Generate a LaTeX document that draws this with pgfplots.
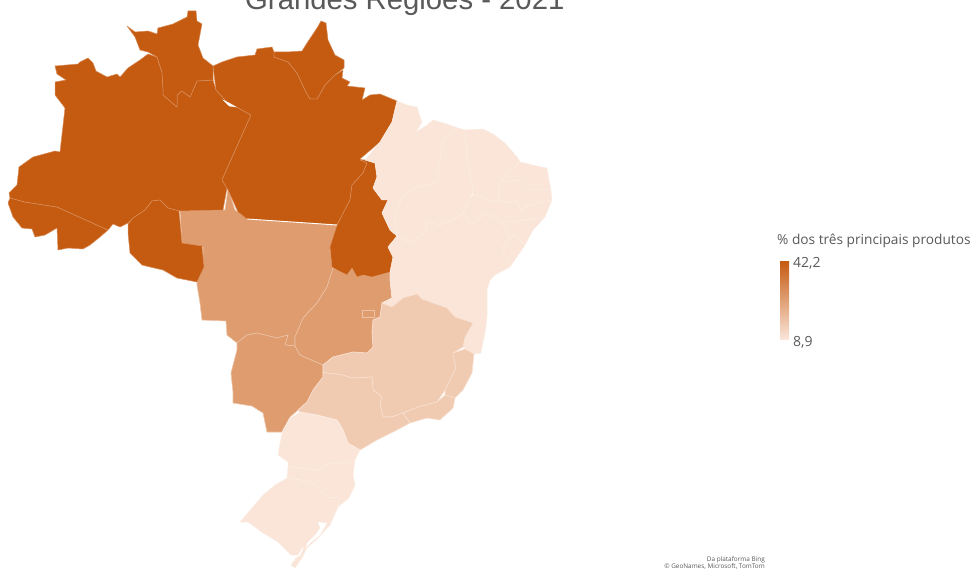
\documentclass[border=0pt]{standalone}
\usepackage{fontspec}
\setmainfont{Liberation Sans}
\newfontfamily\seg{Open Sans}
\usepackage{pgfplots}
\pgfplotsset{compat=1.18}
\definecolor{cN}{HTML}{C55A11}
\definecolor{cCO}{HTML}{DF9C6E}
\definecolor{cSE}{HTML}{F0CBB2}
\definecolor{cL}{HTML}{FAE5D8}
\definecolor{bN}{HTML}{D98F5C}
\definecolor{bCO}{HTML}{EDC3A6}
\definecolor{bSE}{HTML}{F8E0D0}
\definecolor{bL}{HTML}{FCEEE5}
\definecolor{tx}{HTML}{595959}
\pgfplotsset{
 stN/.style={fill=cN,draw=bN,line width=0.5pt,line join=round},
 stCO/.style={fill=cCO,draw=bCO,line width=0.6pt,line join=round},
 stSE/.style={fill=cSE,draw=bSE,line width=0.6pt,line join=round},
 stL/.style={fill=cL,draw=bL,line width=0.5pt,line join=round},
}
\begin{document}
\begin{tikzpicture}
\path[use as bounding box] (0,0) rectangle (973pt,569pt);
\clip (0,0) rectangle (973pt,569pt);
\begin{axis}[x=1pt,y=-1pt,xmin=0,xmax=973,ymin=0,ymax=569,hide axis,clip=false,anchor=north west,at={(0pt,569pt)}]
% Centro-Oeste
\addplot[stCO] coordinates {(180,210)(225,210)(228,189)(235,210)(247,218)(337,225)(330,250)(333,268)(327,287)(317,303)(303,318)(295,337)(295,346)(285,345)(288,335)(277,338)(257,333)(247,335)(237,343)(227,335)(226,321)(202,320)(200,303)(197,285)(197,282)(203,268)(203,247)(182,243)} --cycle;
\addplot[stCO] coordinates {(237,343)(247,335)(257,333)(277,338)(288,335)(285,345)(295,346)(300,355)(323,365)(323,377)(313,390)(307,402)(298,410)(290,417)(282,432)(267,432)(263,413)(252,406)(233,403)(233,392)(231,373)(237,350)} --cycle;
\addplot[stCO] coordinates {(333,268)(337,270)(347,275)(352,268)(357,277)(363,275)(372,277)(390,272)(390,280)(392,298)(382,303)(380,317)(373,320)(372,333)(373,347)(367,353)(353,352)(333,357)(323,365)(300,355)(295,346)(295,337)(303,318)(317,303)(327,287)} --cycle;
\addplot[stCO] coordinates {(362,310)(374,310)(374,317)(362,317)} --cycle;
% Norte
\addplot[stN] coordinates {(10,198)(25,202)(57,207)(108,230)(100,237)(90,245)(83,249)(68,248)(58,250)(57,228)(45,235)(35,237)(32,229)(22,228)(13,217)(8,203)} --cycle;
\addplot[stN] coordinates {(55,66)(78,64)(80,62)(88,58)(93,63)(96,71)(107,77)(117,74)(120,77)(128,68)(140,60)(148,54)(157,57)(162,72)(163,88)(163,95)(177,107)(177,95)(182,91)(190,97)(197,81)(213,80)(216,90)(227,102)(240,109)(251,115)(222,180)(227,188)(223,210)(179,211)(168,208)(160,200)(152,201)(145,210)(133,218)(128,223)(120,227)(113,224)(108,230)(57,207)(25,202)(10,198)(9,193)(17,185)(19,167)(33,157)(55,151)(60,152)(65,108)(55,95)(55,82)(66,80)(57,74)} --cycle;
\addplot[stN] coordinates {(127,26)(135,32)(148,31)(157,34)(158,28)(173,24)(187,17)(188,11)(196,11)(197,21)(202,24)(198,45)(203,58)(213,66)(213,80)(197,81)(190,97)(182,91)(177,95)(177,107)(163,95)(163,88)(162,72)(157,57)(148,52)(140,50)(135,37)} --cycle;
\addplot[stN] coordinates {(213,66)(222,62)(237,57)(255,55)(257,49)(272,47)(274,52)(274,57)(288,62)(297,73)(305,90)(310,99)(317,99)(325,85)(335,75)(343,70)(342,78)(350,82)(347,86)(365,88)(362,100)(370,95)(380,94)(397,101)(392,122)(380,142)(360,159)(367,163)(363,173)(352,185)(350,200)(337,225)(247,219)(238,212)(228,190)(222,180)(251,115)(240,109)(227,102)(216,90)} --cycle;
\addplot[stN] coordinates {(274,52)(287,52)(302,51)(307,43)(317,28)(321,21)(326,23)(328,40)(335,55)(344,60)(344,68)(335,75)(325,85)(317,99)(310,99)(305,90)(297,73)(288,62)(274,57)} --cycle;
\addplot[stN] coordinates {(360,160)(365,160)(375,163)(377,177)(373,188)(382,200)(388,200)(382,213)(390,230)(397,236)(388,247)(393,257)(390,272)(372,277)(363,275)(357,277)(352,268)(347,275)(337,270)(332,267)(330,247)(337,225)(350,200)(352,185)(363,173)(367,163)} --cycle;
\addplot[stN] coordinates {(128,224)(133,218)(145,210)(152,201)(160,200)(168,208)(179,211)(182,243)(202,246)(203,257)(204,267)(197,282)(187,280)(177,278)(163,270)(150,267)(142,265)(130,253)(128,233)} --cycle;
\addplot[fill=white,draw=white,line width=0.3pt] coordinates {(223,100)(229,103)(236,107)(229,106)} --cycle;
\addplot[white,line width=0.9pt] coordinates {(247,219)(337,225)};
% Nordeste
\addplot[stL] coordinates {(397,101)(407,105)(417,107)(420,117)(422,122)(416,132)(427,125)(433,120)(447,124)(458,128)(443,140)(438,170)(438,182)(417,187)(402,197)(395,217)(397,236)(390,230)(382,213)(388,200)(382,200)(373,188)(377,177)(375,163)(365,160)(380,142)(392,122)} --cycle;
\addplot[stL] coordinates {(458,128)(465,130)(467,157)(472,183)(473,192)(470,197)(463,213)(453,220)(440,225)(428,222)(425,233)(410,243)(397,236)(395,217)(402,197)(417,187)(438,182)(438,170)(443,140)} --cycle;
\addplot[stL] coordinates {(397,236)(410,243)(425,233)(428,222)(440,225)(453,220)(463,213)(470,225)(487,213)(502,222)(510,238)(502,248)(510,267)(495,275)(490,280)(487,290)(487,317)(485,333)(482,347)(481,353)(474,354)(465,349)(463,347)(465,337)(473,323)(455,317)(447,308)(422,299)(417,294)(403,298)(392,307)(382,303)(392,298)(390,280)(390,272)(393,257)(388,247)} --cycle;
\addplot[stL] coordinates {(465,130)(483,129)(493,134)(505,143)(517,157)(520,162)(508,173)(500,182)(498,200)(493,202)(483,197)(473,195)(472,183)(467,157)} --cycle;
\addplot[stL] coordinates {(520,162)(537,166)(547,168)(549,180)(551,190)(530,190)(520,180)(500,182)(508,173)} --cycle;
\addplot[stL] coordinates {(500,182)(520,180)(530,190)(551,190)(552,200)(530,205)(520,210)(517,200)(507,203)(498,200)} --cycle;
\addplot[stL] coordinates {(473,195)(483,197)(493,202)(498,200)(507,203)(517,200)(520,210)(530,205)(552,200)(545,217)(512,222)(502,222)(487,213)(470,225)(463,213)(470,197)} --cycle;
\addplot[stL] coordinates {(502,222)(512,222)(545,217)(533,230)(525,245)(515,235)(510,238)} --cycle;
\addplot[stL] coordinates {(510,238)(515,235)(525,245)(510,267)(502,248)} --cycle;
% Sudeste
\addplot[stSE] coordinates {(323,365)(333,357)(353,352)(367,353)(373,347)(372,333)(373,320)(380,317)(382,303)(392,307)(403,298)(417,294)(422,299)(447,308)(455,317)(473,323)(465,337)(463,347)(453,353)(456,368)(445,390)(437,402)(418,407)(392,417)(383,417)(380,403)(382,397)(373,390)(372,377)(352,378)(343,375)(328,373)(323,372)} --cycle;
\addplot[stSE] coordinates {(465,349)(474,354)(472,373)(463,390)(455,398)(445,395)(445,390)(456,368)(453,353)} --cycle;
\addplot[stSE] coordinates {(437,402)(445,395)(455,398)(453,408)(440,420)(427,418)(410,423)(403,413)(418,407)} --cycle;
\addplot[stSE] coordinates {(323,372)(328,373)(343,375)(352,378)(372,377)(373,390)(382,397)(380,403)(383,417)(392,417)(403,413)(410,423)(397,430)(377,440)(360,450)(348,443)(343,430)(337,420)(317,415)(300,412)(298,410)(307,402)(313,390)(323,377)} --cycle;
% Sul
\addplot[stL] coordinates {(300,412)(317,415)(337,420)(343,430)(348,443)(360,450)(355,460)(347,463)(330,463)(318,470)(303,468)(288,467)(288,462)(278,455)(280,443)(283,430)(290,418)} --cycle;
\addplot[stL] coordinates {(288,467)(303,468)(318,470)(330,463)(347,463)(355,460)(353,475)(355,485)(349,498)(338,507)(338,498)(327,497)(313,483)(300,480)(287,478)} --cycle;
\addplot[stL] coordinates {(287,478)(300,480)(313,483)(327,497)(338,498)(338,507)(330,525)(318,538)(307,548)(302,558)(295,568)(291,565)(296,558)(300,556)(304,547)(302,548)(298,555)(291,555)(278,542)(263,533)(248,522)(240,522)(252,508)(263,495)(275,485)} --cycle;
\addplot[fill=white,draw=none] coordinates {(318,522)(327,523)(320,535)(310,543)(306,548)(307,543)(317,533)(320,528)} --cycle;
% texts
\node[anchor=base west,text=tx,font=\fontsize{29.3}{36}\selectfont,inner sep=0pt] at (axis cs:245,10) {Grandes Regiões - 2021};
\node[anchor=base west,text=tx,font=\seg\fontsize{13.7}{16}\selectfont,inner sep=0pt] at (axis cs:777,244) {\% dos três principais produtos};
\fill[top color=cN,bottom color=cL,draw=none] (axis cs:780,261) rectangle (axis cs:789,339);
\node[anchor=base west,text=tx,font=\seg\fontsize{14}{16}\selectfont,inner sep=0pt] at (axis cs:793,267) {42,2};
\node[anchor=base west,text=tx,font=\seg\fontsize{14}{16}\selectfont,inner sep=0pt] at (axis cs:793,346) {8,9};
\node[anchor=base east,text=tx,font=\seg\fontsize{6.4}{7}\selectfont,inner sep=0pt] at (axis cs:765,561) {Da plataforma Bing};
\node[anchor=base east,text=tx,font=\seg\fontsize{6.4}{7}\selectfont,inner sep=0pt] at (axis cs:765,568) {© GeoNames, Microsoft, TomTom};
\end{axis}
\end{tikzpicture}
\end{document}
